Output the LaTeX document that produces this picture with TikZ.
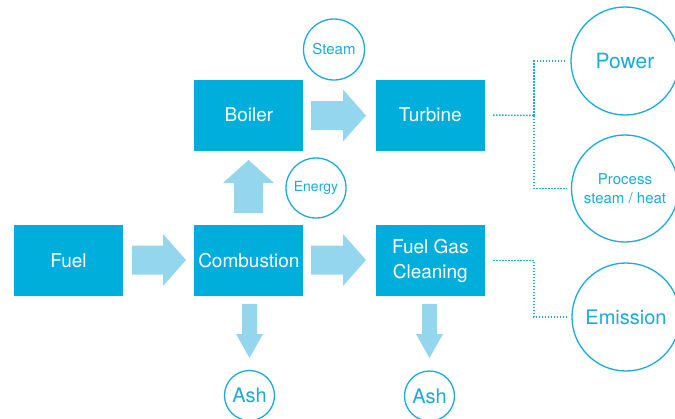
\documentclass[tikz,border=0pt]{standalone}
\usepackage{fontspec}
\setmainfont{TeX Gyre Heros}
\usepackage{tikz}
\usetikzlibrary{positioning,calc}

\definecolor{boxblue}{HTML}{00AEDB}
\definecolor{flowblue}{HTML}{95D6EF}
\definecolor{ringblue}{HTML}{1AABDA}

\tikzset{
  block/.style={fill=boxblue, text=white, minimum width=109pt, minimum height=71pt,
    inner sep=0pt, align=center, font=\fontsize{19}{25}\selectfont},
  ring/.style={circle, draw=ringblue, line width=1.3pt, text=ringblue, inner sep=0pt, align=center},
  flow/.style={fill=flowblue},
  dotline/.style={draw=ringblue, line width=1.5pt, dash pattern=on 1.5pt off 1.5pt}
}

\begin{document}
\begin{tikzpicture}[x=1pt,y=-1pt]
      \useasboundingbox (0,0) rectangle (675,418);
      % process boxes
      \node[block] (fuel) at (68.5,260.5) {Fuel};
      \node[block, right=71pt of fuel] (combustion) {Combustion};
      \node[block, above=74pt of combustion] (boiler) {Boiler};
      \node[block, right=72pt of boiler] (turbine) {Turbine};
      \node[block, right=72pt of combustion] (fgc) {Fuel Gas\\Cleaning};
      % circles
      \node[ring, minimum size=61pt, font=\fontsize{15}{18}\selectfont] (steam) at (334,49.5) {Steam};
      \node[ring, minimum size=60pt, font=\fontsize{14}{17}\selectfont] (energy) at (316,188) {Energy};
      \node[ring, minimum size=108pt, font=\fontsize{21}{25}\selectfont] (power) at (625,61) {Power};
      \node[ring, minimum size=107pt, font=\fontsize{15}{19}\selectfont] (process) at (625,188.5) {Process\\steam / heat};
      \node[ring, minimum size=108pt, font=\fontsize{20}{24}\selectfont] (emission) at (626,317) {Emission};
      \node[ring, minimum size=50pt, font=\fontsize{20}{24}\selectfont] (ash1) at (249.5,395.5) {Ash};
      \node[ring, minimum size=50pt, font=\fontsize{20}{24}\selectfont] (ash2) at (429.5,396) {Ash};
      % flow arrows
      \fill[flow] (132,245.5) -- (163,245.5) -- (163,234) -- (186,260) -- (163,286) -- (163,274.5) -- (132,274.5) -- cycle;
      \fill[flow] (311,245.5) -- (343,245.5) -- (343,234) -- (366,260) -- (343,286) -- (343,274.5) -- (311,274.5) -- cycle;
      \fill[flow] (311,101) -- (343,101) -- (343,89.5) -- (366,115.5) -- (343,141.5) -- (343,130) -- (311,130) -- cycle;
      \fill[flow] (234,213) -- (234,183) -- (223,183) -- (248.5,160) -- (274,183) -- (263,183) -- (263,213) -- cycle;
      \fill[flow] (242,304) -- (257,304) -- (257,334) -- (263,334) -- (249.5,358) -- (236,334) -- (242,334) -- cycle;
      \fill[flow] (422,304) -- (437,304) -- (437,334) -- (443,334) -- (429.5,358) -- (416,334) -- (422,334) -- cycle;
      % dotted outputs
      \coordinate (tsplit) at (534,115.5);
      \coordinate (fsplit) at (534,260.5);
      \draw[dotline] ([xshift=8pt]turbine.east) -- (tsplit);
      \draw[dotline] (tsplit) |- ([xshift=-4pt]power.west);
      \draw[dotline] (tsplit) |- ([xshift=-4pt]process.west);
      \draw[dotline] ([xshift=8pt]fgc.east) -- (fsplit) |- ([xshift=-4pt]emission.west);
\end{tikzpicture}
\end{document}
